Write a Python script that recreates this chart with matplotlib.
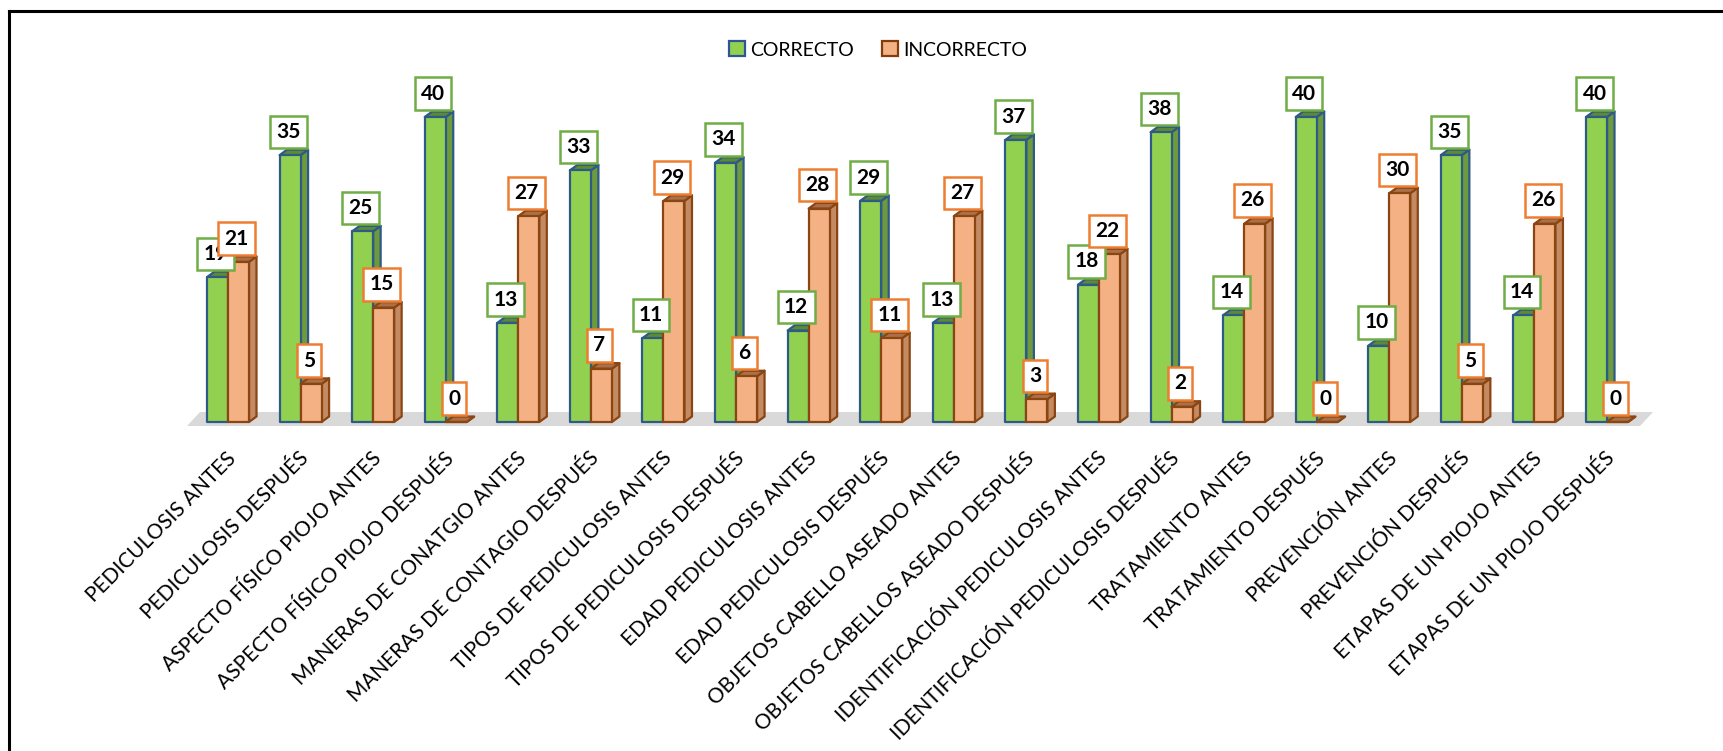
import matplotlib
matplotlib.use("Agg")
import matplotlib.pyplot as plt
from matplotlib.patches import Polygon, Patch
from matplotlib.lines import Line2D

categories = [
    "PEDICULOSIS ANTES", "PEDICULOSIS DESPUÉS",
    "ASPECTO FÍSICO PIOJO ANTES", "ASPECTO FÍSICO PIOJO DESPUÉS",
    "MANERAS DE CONATGIO ANTES", "MANERAS DE CONTAGIO DESPUÉS",
    "TIPOS DE PEDICULOSIS ANTES", "TIPOS DE PEDICULOSIS DESPUÉS",
    "EDAD PEDICULOSIS ANTES", "EDAD PEDICULOSIS DESPUÉS",
    "OBJETOS CABELLO ASEADO ANTES", "OBJETOS CABELLOS ASEADO DESPUÉS",
    "IDENTIFICACIÓN PEDICULOSIS ANTES", "IDENTIFICACIÓN PEDICULOSIS DESPUÉS",
    "TRATAMIENTO ANTES", "TRATAMIENTO DESPUÉS",
    "PREVENCIÓN ANTES", "PREVENCIÓN DESPUÉS",
    "ETAPAS DE UN PIOJO ANTES", "ETAPAS DE UN PIOJO DESPUÉS",
]
correcto = [19, 35, 25, 40, 13, 33, 11, 34, 12, 29, 13, 37, 18, 38, 14, 40, 10, 35, 14, 40]
incorrecto = [21, 5, 15, 0, 27, 7, 29, 6, 28, 11, 27, 3, 22, 2, 26, 0, 30, 5, 26, 0]
series_names = ["CORRECTO", "INCORRECTO"]

plt.rcParams['font.family'] = ['Lato', 'DejaVu Sans']

W, H = 1724, 751
fig = plt.figure(figsize=(W / 100, H / 100), dpi=100)

# geometry (pixels)
pitch = 72.58          # px per category
upx = 7.625            # px per value unit
base_px = 422          # baseline from top
floor_bot_px = 426
center0_px = 228

ax_bottom = (H - floor_bot_px) / H
ax = fig.add_axes([0, ax_bottom, 1, 1 - ax_bottom])
x_left = (0 - center0_px) / pitch
x_right = (W - center0_px) / pitch
ax.set_xlim(x_left, x_right)
ax.set_ylim((base_px - floor_bot_px) / upx, base_px / upx)
ax.axis('off')

bw = 21 / pitch
dx = 7.5 / pitch
dy = 5.5 / upx

# floor
n = len(categories)
fl_y0 = (base_px - floor_bot_px) / upx
fl_y1 = (base_px - 412) / upx
fx0 = -bw - 41 / pitch / 2 * 1.0 - 0.0
floor = Polygon([(-bw - 20 / pitch, fl_y0), (n - 1 + bw + 12 / pitch, fl_y0),
                 (n - 1 + bw + 25 / pitch, fl_y1), (-bw - 7 / pitch, fl_y1)],
                closed=True, fc='#D9D9D9', ec='none', zorder=1)
ax.add_patch(floor)

styles = [
    dict(front='#92D050', side='#6E9A3E', top='#5F8A34', edge='#2E5A87', lbl='#70AD47'),
    dict(front='#F4B183', side='#C48A62', top='#A9714A', edge='#8B4513', lbl='#ED7D31'),
]


def bar3d(x0, v, st, z):
    x1 = x0 + bw
    lw = 1.6
    side = Polygon([(x1, 0), (x1 + dx, dy), (x1 + dx, v + dy), (x1, v)], closed=True,
                   fc=st['side'], ec=st['edge'], lw=lw, zorder=z, joinstyle='round')
    top = Polygon([(x0, v), (x1, v), (x1 + dx, v + dy), (x0 + dx, v + dy)], closed=True,
                  fc=st['top'], ec=st['edge'], lw=lw, zorder=z, joinstyle='round')
    front = Polygon([(x0, 0), (x1, 0), (x1, v), (x0, v)], closed=True,
                    fc=st['front'], ec=st['edge'], lw=lw, zorder=z + 0.1, joinstyle='round')
    for p in (side, top, front):
        ax.add_patch(p)


for i in range(n):
    bar3d(i - bw, correcto[i], styles[0], 3 + i * 0.01)
    bar3d(i, incorrecto[i], styles[1], 4 + i * 0.01)

for k, vals in enumerate([correcto, incorrecto]):
    st = styles[k]
    for i, v in enumerate(vals):
        xc = i - bw / 2 + k * bw - 2 / pitch
        ax.annotate(str(v), xy=(xc, v), xytext=(0, 9.6), textcoords='offset points',
                    ha='center', va='bottom', fontsize=15, fontweight='bold', color='black',
                    bbox=dict(boxstyle='square,pad=0.3', fc='white', ec=st['lbl'], lw=1.8),
                    zorder=10 + k, annotation_clip=False)

# category labels
for i, c in enumerate(categories):
    ax.annotate(c, xy=(i + 5 / pitch, fl_y0), xytext=(0, -21), textcoords='offset points',
                rotation=45, rotation_mode='anchor', ha='right', va='center',
                fontsize=15, color='black', annotation_clip=False)

handles = [Patch(fc=styles[0]['front'], ec='#2F5597', lw=1.6, label=series_names[0]),
           Patch(fc=styles[1]['front'], ec='#843C0C', lw=1.6, label=series_names[1])]
fig.legend(handles=handles, loc='center', bbox_to_anchor=(878 / W, 1 - 50 / H), ncol=2,
           frameon=False, fontsize=14, handlelength=0.82, handleheight=0.82,
           handletextpad=0.26, columnspacing=1.44, borderaxespad=0)

# outer border (right and bottom edges fall outside the image)
fig.add_artist(Line2D([9 / W, 1.0], [1 - 10.5 / H, 1 - 10.5 / H], color='black', lw=2.2,
                      transform=fig.transFigure))
fig.add_artist(Line2D([9 / W, 9 / W], [1 - 10.5 / H, 0], color='black', lw=2.2,
                      transform=fig.transFigure))

fig.savefig('out.png', dpi=100, facecolor='white')
